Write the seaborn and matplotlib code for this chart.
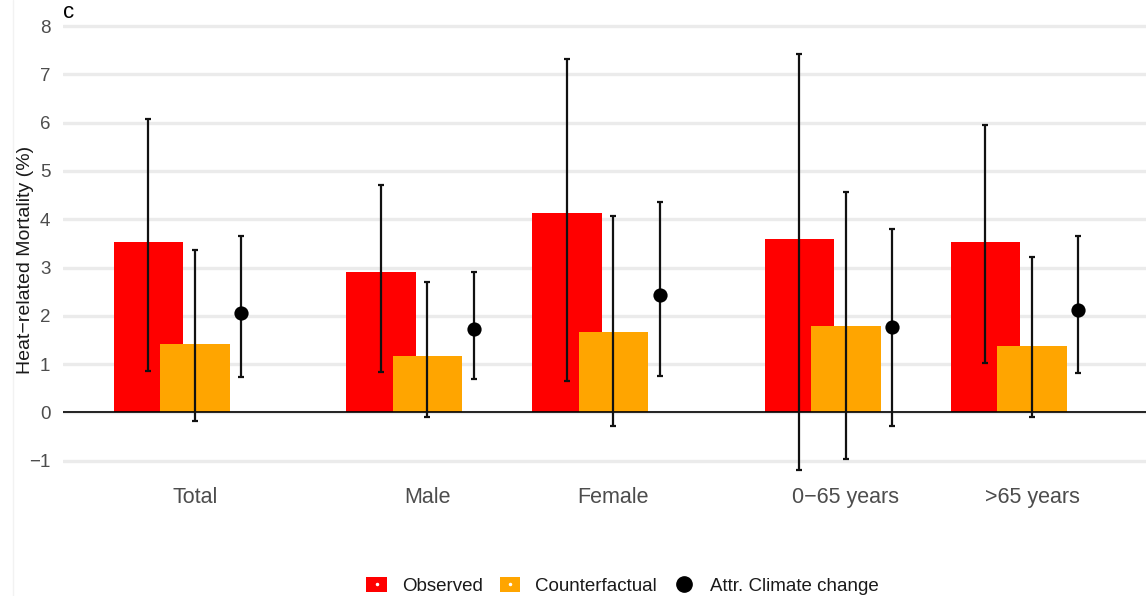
import numpy as np
import pandas as pd
import matplotlib
matplotlib.use("Agg")
import matplotlib.pyplot as plt
from matplotlib.patches import Patch
from matplotlib.lines import Line2D
from matplotlib.legend_handler import HandlerTuple
import seaborn as sns

# Data
groups = ["Total", "Male", "Female", "0\u221265 years", ">65 years"]
group_pos = [0.0, 1.25, 2.25, 3.5, 4.5]

observed = [3.52, 2.91, 4.12, 3.60, 3.52]
observed_lo = [0.85, 0.83, 0.65, -1.19, 1.03]
observed_hi = [6.07, 4.72, 7.32, 7.42, 5.95]

counterfactual = [1.42, 1.16, 1.67, 1.80, 1.37]
counterfactual_lo = [-0.17, -0.09, -0.29, -0.97, -0.09]
counterfactual_hi = [3.36, 2.70, 4.07, 4.56, 3.21]

attributable = [2.07, 1.73, 2.43, 1.78, 2.13]
attributable_lo = [0.74, 0.70, 0.76, -0.27, 0.82]
attributable_hi = [3.65, 2.90, 4.36, 3.80, 3.65]

RED = "#FF0000"
ORANGE = "#FFA500"
TICK_GREY = "#4d4d4d"

df = pd.DataFrame({
    "group": groups,
    "pos": group_pos,
    "observed": observed,
    "observed_lo": observed_lo,
    "observed_hi": observed_hi,
    "counterfactual": counterfactual,
    "counterfactual_lo": counterfactual_lo,
    "counterfactual_hi": counterfactual_hi,
    "attributable": attributable,
    "attributable_lo": attributable_lo,
    "attributable_hi": attributable_hi,
})

sns.set_theme(style="whitegrid")
plt.rcParams["font.family"] = ["Liberation Sans", "DejaVu Sans"]

fig = plt.figure(figsize=(11.46, 5.96), dpi=100)
ax = fig.add_axes([0.05497, 0.1904, 0.94503, 0.8104])

dodge = 0.25
bar_w = 0.375

sns.barplot(x=df["pos"] - dodge, y=df["observed"], native_scale=True, width=bar_w,
            color=RED, saturation=1, errorbar=None, linewidth=0, ax=ax)
sns.barplot(x=df["pos"], y=df["counterfactual"], native_scale=True, width=bar_w,
            color=ORANGE, saturation=1, errorbar=None, linewidth=0, ax=ax)

ax.axhline(0, color="black", lw=1.2, zorder=2.5)


def draw_err(x, mid, lo, hi):
    mid = np.asarray(mid)
    yerr = [mid - np.asarray(lo), np.asarray(hi) - mid]
    ax.errorbar(x, mid, yerr=yerr, fmt="none", ecolor="#111111",
                elinewidth=1.6, capsize=2, capthick=1.6, zorder=3)


draw_err(df["pos"] - dodge, df["observed"], df["observed_lo"], df["observed_hi"])
draw_err(df["pos"], df["counterfactual"], df["counterfactual_lo"], df["counterfactual_hi"])
draw_err(df["pos"] + dodge, df["attributable"], df["attributable_lo"], df["attributable_hi"])

sns.scatterplot(x=df["pos"] + dodge, y=df["attributable"], s=105, color="black",
                linewidth=0, zorder=4, ax=ax)

# axes styling (ggplot minimal look)
ax.set_xlim(-0.7097, 5.113)
ax.set_ylim(-1.45, 8.55)
ax.set_yticks(range(-1, 9))
ax.set_xticks(group_pos)
ax.set_xticklabels(groups)
ax.tick_params(axis="x", length=0, pad=3, labelsize=15.5, labelcolor=TICK_GREY)
ax.tick_params(axis="y", length=0, pad=9, labelsize=13.5, labelcolor=TICK_GREY)
ax.grid(axis="x", visible=False)
ax.grid(axis="y", color="#ebebeb", linewidth=2.4)
ax.set_axisbelow(True)
for sp in ax.spines.values():
    sp.set_visible(False)
ax.set_facecolor("white")

ax.set_xlabel("")
ax.set_ylabel("Heat\u2212related Mortality (%)", fontsize=14, color="#1a1a1a")
ax.yaxis.set_label_coords(-0.027, 0.46)

# legend
white_dot = Line2D([], [], marker="o", color="white", markersize=1.5, linestyle="none")
handles = [
    (Patch(facecolor=RED, edgecolor="none"), white_dot),
    (Patch(facecolor=ORANGE, edgecolor="none"), white_dot),
    Line2D([], [], marker="o", color="black", markersize=11, linestyle="none"),
]
labels = ["Observed", "Counterfactual", "Attr. Climate change"]
fig.legend(handles, labels, loc="center", bbox_to_anchor=(0.543, 0.0168), ncol=3,
           frameon=False, fontsize=13.5, handlelength=1.1, handleheight=0.9,
           handletextpad=0.8, columnspacing=0.9, labelcolor="#1a1a1a",
           handler_map={tuple: HandlerTuple(ndivide=1, pad=0)})

# panel tag and faint frame line from the original figure
fig.text(0.055, 0.996, "c", fontsize=16, va="top", color="black")
fig.add_artist(Line2D([13 / 1146, 13 / 1146], [0, 1], color="#f2f2f2", lw=1,
                      transform=fig.transFigure))

fig.savefig("out.png", dpi=100)
